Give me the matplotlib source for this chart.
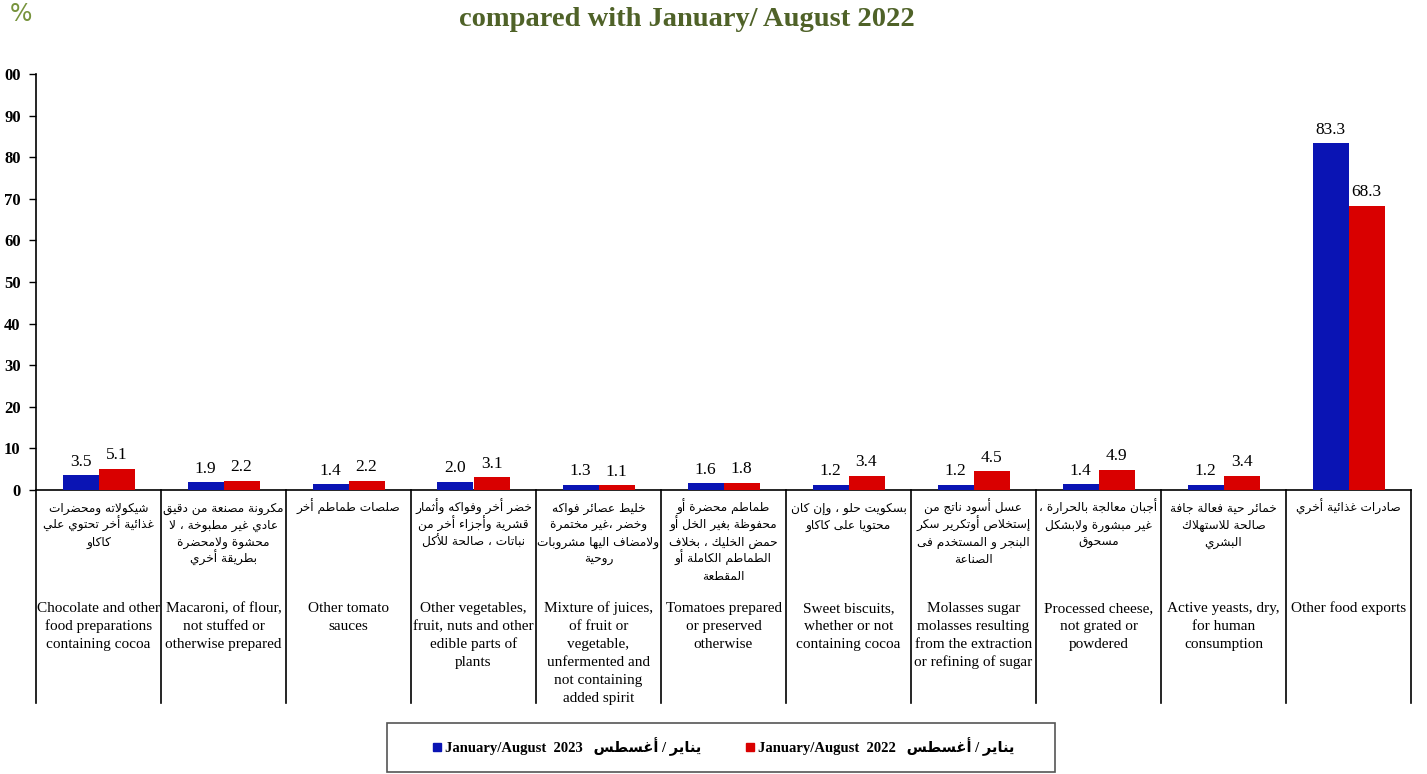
import matplotlib
matplotlib.use("Agg")
import matplotlib.pyplot as plt
from matplotlib.transforms import blended_transform_factory
from matplotlib.lines import Line2D
from matplotlib.patches import Rectangle

# ---------------- data ----------------
values_2023 = [3.5, 1.9, 1.4, 2.0, 1.3, 1.6, 1.2, 1.2, 1.4, 1.2, 83.3]
values_2022 = [5.1, 2.2, 2.2, 3.1, 1.1, 1.8, 3.4, 4.5, 4.9, 3.4, 68.3]

labels_en = [
    ["Chocolate and other", "food preparations", "containing cocoa"],
    ["Macaroni, of flour,", "not stuffed or", "otherwise prepared"],
    ["Other tomato", "sauces"],
    ["Other vegetables,", "fruit, nuts and other", "edible parts of", "plants"],
    ["Mixture of juices,", "of fruit or", "vegetable,", "unfermented and",
     "not containing", "added spirit"],
    ["Tomatoes prepared", "or preserved", "otherwise"],
    ["Sweet biscuits,", "whether or not", "containing cocoa"],
    ["Molasses sugar", "molasses resulting", "from the extraction",
     "or refining of sugar"],
    ["Processed cheese,", "not grated or", "powdered"],
    ["Active yeasts, dry,", "for human", "consumption"],
    ["Other food exports"],
]

labels_ar = [
    ["شيكولاته ومحضرات", "غذائية أخر تحتوي علي", "كاكاو"],
    ["مكرونة مصنعة من دقيق", "عادي غير مطبوخة ، لا", "محشوة ولامحضرة", "بطريقة أخري"],
    ["صلصات طماطم أخر"],
    ["خضر أخر وفواكه وأثمار", "قشرية وأجزاء أخر من", "نباتات ، صالحة للأكل"],
    ["خليط عصائر فواكه", "وخضر ،غير مختمرة", "ولامضاف اليها مشروبات", "روحية"],
    ["طماطم محضرة أو", "محفوظة بغير الخل أو", "حمض الخليك ، بخلاف", "الطماطم الكاملة أو", "المقطعة"],
    ["بسكويت حلو ، وإن كان", "محتويا على كاكاو"],
    ["عسل أسود ناتج من", "إستخلاص أوتكرير سكر", "البنجر و المستخدم فى", "الصناعة"],
    ["أجبان معالجة بالحرارة ،", "غير مبشورة ولابشكل", "مسحوق"],
    ["خمائر حية فعالة جافة", "صالحة للاستهلاك", "البشري"],
    ["صادرات غذائية أخري"],
]

yticks = [0, 10, 20, 30, 40, 50, 60, 70, 80, 90, 100]
ytick_labels = ["0", "10", "20", "30", "40", "50", "60", "70", "80", "90", "00"]

legend_en = ["January/August  2023", "January/August  2022"]
legend_ar = "يناير / أغسطس"
title_text = "compared with January/ August 2022"

BLUE = "#0A14B4"
RED = "#D90000"
GREEN_T = "#4F6228"
GREEN_P = "#77933C"

# ---------------- minimal Arabic shaping ----------------
FORMS = {
    'ء': ('\uFE80', None, None, None),
    'آ': ('\uFE81', '\uFE82', None, None),
    'أ': ('\uFE83', '\uFE84', None, None),
    'ؤ': ('\uFE85', '\uFE86', None, None),
    'إ': ('\uFE87', '\uFE88', None, None),
    'ئ': ('\uFE89', '\uFE8A', '\uFE8B', '\uFE8C'),
    'ا': ('\uFE8D', '\uFE8E', None, None),
    'ب': ('\uFE8F', '\uFE90', '\uFE91', '\uFE92'),
    'ة': ('\uFE93', '\uFE94', None, None),
    'ت': ('\uFE95', '\uFE96', '\uFE97', '\uFE98'),
    'ث': ('\uFE99', '\uFE9A', '\uFE9B', '\uFE9C'),
    'ج': ('\uFE9D', '\uFE9E', '\uFE9F', '\uFEA0'),
    'ح': ('\uFEA1', '\uFEA2', '\uFEA3', '\uFEA4'),
    'خ': ('\uFEA5', '\uFEA6', '\uFEA7', '\uFEA8'),
    'د': ('\uFEA9', '\uFEAA', None, None),
    'ذ': ('\uFEAB', '\uFEAC', None, None),
    'ر': ('\uFEAD', '\uFEAE', None, None),
    'ز': ('\uFEAF', '\uFEB0', None, None),
    'س': ('\uFEB1', '\uFEB2', '\uFEB3', '\uFEB4'),
    'ش': ('\uFEB5', '\uFEB6', '\uFEB7', '\uFEB8'),
    'ص': ('\uFEB9', '\uFEBA', '\uFEBB', '\uFEBC'),
    'ض': ('\uFEBD', '\uFEBE', '\uFEBF', '\uFEC0'),
    'ط': ('\uFEC1', '\uFEC2', '\uFEC3', '\uFEC4'),
    'ظ': ('\uFEC5', '\uFEC6', '\uFEC7', '\uFEC8'),
    'ع': ('\uFEC9', '\uFECA', '\uFECB', '\uFECC'),
    'غ': ('\uFECD', '\uFECE', '\uFECF', '\uFED0'),
    'ف': ('\uFED1', '\uFED2', '\uFED3', '\uFED4'),
    'ق': ('\uFED5', '\uFED6', '\uFED7', '\uFED8'),
    'ك': ('\uFED9', '\uFEDA', '\uFEDB', '\uFEDC'),
    'ل': ('\uFEDD', '\uFEDE', '\uFEDF', '\uFEE0'),
    'م': ('\uFEE1', '\uFEE2', '\uFEE3', '\uFEE4'),
    'ن': ('\uFEE5', '\uFEE6', '\uFEE7', '\uFEE8'),
    'ه': ('\uFEE9', '\uFEEA', '\uFEEB', '\uFEEC'),
    'و': ('\uFEED', '\uFEEE', None, None),
    'ى': ('\uFEEF', '\uFEF0', None, None),
    'ي': ('\uFEF1', '\uFEF2', '\uFEF3', '\uFEF4'),
}
LAMALEF = {'ا': ('\uFEFB', '\uFEFC'), 'أ': ('\uFEF7', '\uFEF8'),
           'إ': ('\uFEF9', '\uFEFA'), 'آ': ('\uFEF5', '\uFEF6')}


def joins_next(ch):
    return ch in FORMS and FORMS[ch][2] is not None


def joinable(ch):
    return ch in FORMS and FORMS[ch][1] is not None


def shape(s):
    out = []
    i = 0
    n = len(s)
    while i < n:
        ch = s[i]
        prev = s[i - 1] if i > 0 else ''
        nxt = s[i + 1] if i + 1 < n else ''
        cp = joins_next(prev)
        if ch == 'ل' and nxt in LAMALEF:
            out.append(LAMALEF[nxt][1 if cp else 0])
            i += 2
            continue
        if ch in FORMS:
            iso, fin, ini, med = FORMS[ch]
            jp = cp and fin is not None
            jn = ini is not None and joinable(nxt)
            if jp and jn:
                g = med
            elif jp:
                g = fin
            elif jn:
                g = ini
            else:
                g = iso
            out.append(g)
        else:
            out.append(ch)
        i += 1
    return ''.join(reversed(out))


# ---------------- figure ----------------
W, H = 1427, 774
fig = plt.figure(figsize=(W / 100, H / 100), dpi=100)
x0, x1 = 36, 1411
y0, y1 = 490, 74
ax = fig.add_axes([x0 / W, 1 - y0 / H, (x1 - x0) / W, (y0 - y1) / H])

n = len(values_2023)
xs = list(range(n))
bw = 0.288
b1 = ax.bar([x - bw / 2 for x in xs], values_2023, bw, color=BLUE, zorder=3)
b2 = ax.bar([x + bw / 2 for x in xs], values_2022, bw, color=RED, zorder=3)

serif = "Liberation Serif"
for bars, vals in ((b1, values_2023), (b2, values_2022)):
    for r, v in zip(bars, vals):
        ax.annotate(f"{v:.1f}", (r.get_x() + r.get_width() / 2, v),
                    xytext=(0, 4), textcoords="offset points",
                    ha="center", va="bottom", fontsize=12.5, family=serif)

ax.set_xlim(-0.5, n - 0.5)
ax.set_ylim(0, 100)
ax.set_yticks(yticks)
ax.set_yticklabels(ytick_labels, fontsize=12, family=serif, fontweight="bold")
ax.tick_params(axis="y", direction="out", length=5, width=1, pad=6)
ax.set_xticks([])
for s in ("top", "right"):
    ax.spines[s].set_visible(False)
ax.spines["left"].set_linewidth(1.2)
ax.spines["bottom"].set_linewidth(1.2)

# table below axis
tr = blended_transform_factory(ax.transData, fig.transFigure)
ybot = 1 - 703 / H
ytop = 1 - 490 / H
for k in range(n + 1):
    fig.add_artist(Line2D([k - 0.5, k - 0.5], [ybot, ytop], transform=tr,
                          color="black", lw=1.2))

for i in range(n):
    for j, line in enumerate(labels_ar[i]):
        fig.text(i, 1 - (512 + 17 * j) / H, shape(line), transform=tr,
                 ha="center", va="baseline", fontsize=8.7, family="DejaVu Sans")
    for j, line in enumerate(labels_en[i]):
        fig.text(i, 1 - (612 + 18 * j) / H, line, transform=tr,
                 ha="center", va="baseline", fontsize=11, family=serif)

# titles
fig.text(10 / W, 1 - 14 / H, "%", fontsize=17, color=GREEN_P, va="center",
         ha="left", family="DejaVu Sans")
fig.text(687 / W, 1 - 20 / H, title_text, fontsize=20.5, color=GREEN_T,
         fontweight="bold", family=serif, ha="center", va="center")

# legend
fig.add_artist(Rectangle((387 / W, 1 - 772 / H), (1055 - 387) / W, (772 - 723) / H,
                         transform=fig.transFigure, fill=False,
                         edgecolor="#555555", lw=1.2))
ly = 1 - 747 / H
for (sx, col, txt) in ((433, BLUE, legend_en[0]), (746, RED, legend_en[1])):
    fig.add_artist(Rectangle((sx / W, 1 - 751 / H), 8 / W, 8 / H,
                             transform=fig.transFigure, color=col))
    fig.text((sx + 12) / W, ly, txt + "   " + shape(legend_ar), fontsize=10.5,
             fontweight="bold", family=[serif, "DejaVu Sans"], va="center",
             ha="left")

fig.savefig("out.png", dpi=100)
